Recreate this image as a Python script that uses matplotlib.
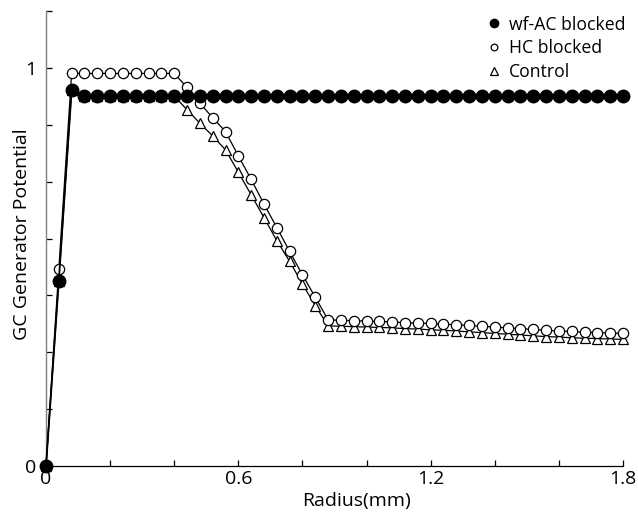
import matplotlib
matplotlib.use("Agg")
import matplotlib.pyplot as plt
from matplotlib.lines import Line2D

plt.rcParams['font.family'] = ['Open Sans', 'DejaVu Sans']

radius = [0.00, 0.04, 0.08, 0.12, 0.16, 0.20, 0.24, 0.28, 0.32, 0.36, 0.40,
          0.44, 0.48, 0.52, 0.56, 0.60, 0.64, 0.68, 0.72, 0.76, 0.80, 0.84,
          0.88, 0.92, 0.96, 1.00, 1.04, 1.08, 1.12, 1.16, 1.20, 1.24, 1.28,
          1.32, 1.36, 1.40, 1.44, 1.48, 1.52, 1.56, 1.60, 1.64, 1.68, 1.72,
          1.76, 1.80]

wfac_blocked = [0.000, 0.465, 0.944, 0.929, 0.929, 0.929, 0.929, 0.929, 0.929, 0.929, 0.929,
                0.929, 0.929, 0.929, 0.929, 0.929, 0.929, 0.929, 0.929, 0.929, 0.929, 0.929,
                0.929, 0.929, 0.929, 0.929, 0.929, 0.929, 0.929, 0.929, 0.929, 0.929, 0.929,
                0.929, 0.929, 0.929, 0.929, 0.929, 0.929, 0.929, 0.929, 0.929, 0.929, 0.929,
                0.929, 0.929]

hc_blocked = [0.000, 0.495, 0.986, 0.986, 0.986, 0.986, 0.986, 0.986, 0.986, 0.986, 0.986,
              0.951, 0.911, 0.875, 0.840, 0.779, 0.720, 0.658, 0.599, 0.539, 0.480, 0.424,
              0.367, 0.366, 0.365, 0.364, 0.363, 0.362, 0.360, 0.359, 0.358, 0.356, 0.355,
              0.353, 0.351, 0.349, 0.347, 0.345, 0.343, 0.341, 0.339, 0.338, 0.336, 0.335,
              0.334, 0.333]

control = [0.000, 0.465, 0.944, 0.929, 0.929, 0.929, 0.929, 0.929, 0.929, 0.929, 0.929,
           0.895, 0.861, 0.829, 0.794, 0.738, 0.681, 0.624, 0.566, 0.514, 0.457, 0.403,
           0.352, 0.351, 0.350, 0.349, 0.348, 0.347, 0.345, 0.344, 0.342, 0.341, 0.339,
           0.337, 0.335, 0.333, 0.331, 0.329, 0.327, 0.325, 0.324, 0.322, 0.321, 0.320,
           0.319, 0.318]

series_labels = ['wf-AC blocked', 'HC blocked', 'Control']
x_ticks = [0, 0.2, 0.4, 0.6, 0.8, 1.0, 1.2, 1.4, 1.6, 1.8]
x_ticklabels = ['0', '', '', '0.6', '', '', '1.2', '', '', '1.8']
y_ticks = [k / 7 for k in range(9)]
y_ticklabels = ['0', '', '', '', '', '', '', '1', '']

fig = plt.figure(figsize=(6.38, 5.13), dpi=100)
ax = fig.add_axes([46/638, 1 - 466/513, (623 - 46)/638, (466 - 11)/513])

ax.plot(radius, control, color='black', lw=0.9, marker='^', ms=7.5,
        mfc='white', mec='black', mew=0.9, clip_on=False, zorder=2)
ax.plot(radius, hc_blocked, color='black', lw=0.9, marker='o', ms=7.4,
        mfc='white', mec='black', mew=0.9, clip_on=False, zorder=3)
ax.plot(radius, wfac_blocked, color='black', lw=1.3, marker='o', ms=9,
        mfc='black', mec='black', clip_on=False, zorder=4)

ax.set_xlim(0, 1.8)
ax.set_ylim(0, 8/7)
ax.set_xticks(x_ticks)
ax.set_xticklabels(x_ticklabels)
ax.set_yticks(y_ticks)
ax.set_yticklabels(y_ticklabels)
ax.tick_params(direction='in', length=4.5, width=0.9, labelsize=14, pad=3)
ax.tick_params(axis='y', pad=7)

for s in ['top', 'right']:
    ax.spines[s].set_visible(False)
ax.spines['left'].set_color('#808080')
ax.spines['left'].set_linewidth(1.0)
ax.spines['bottom'].set_linewidth(0.9)

ax.set_xlabel('Radius(mm)', fontsize=14)
ax.xaxis.set_label_coords((356 - 46) / 577, -0.057)
ax.set_ylabel('GC Generator Potential', fontsize=14)
ax.yaxis.set_label_coords(-0.026, 0.51)

handles = [
    Line2D([], [], ls='none', marker='o', ms=6, mfc='black', mec='black'),
    Line2D([], [], ls='none', marker='o', ms=4.8, mfc='white', mec='black', mew=0.9),
    Line2D([], [], ls='none', marker='^', ms=5.2, mfc='white', mec='black', mew=0.9),
]
leg = ax.legend(handles, series_labels, loc='upper right', bbox_to_anchor=(1.022, 1.013),
                frameon=False, fontsize=12.7, handlelength=0.8, handletextpad=0.4,
                labelspacing=0.32, borderaxespad=0.2)

fig.savefig('out.png', dpi=100)
